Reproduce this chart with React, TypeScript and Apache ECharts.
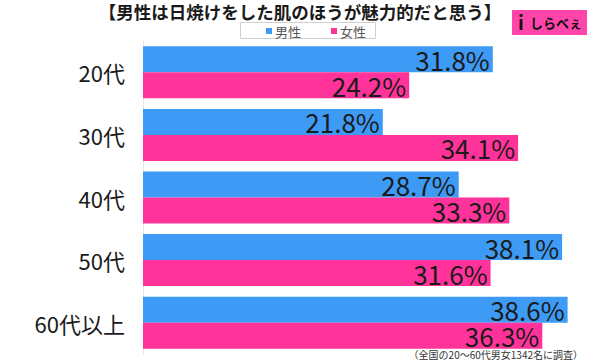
import React, { useEffect, useRef } from "react";
import * as echarts from "echarts";

const categories = ["20代", "30代", "40代", "50代", "60代以上"];
const maleValues = [31.8, 21.8, 28.7, 38.1, 38.6];
const femaleValues = [24.2, 34.1, 33.3, 31.6, 36.3];
const seriesNames = ["男性", "女性"];
const titleText = "【男性は日焼けをした肌のほうが魅力的だと思う】";
const footnote = "（全国の20〜60代男女1342名に調査）";

const FONT = "'Noto Sans CJK JP', 'Noto Sans', sans-serif";

export default function App() {
  const ref = useRef<HTMLDivElement>(null);
  useEffect(() => {
    if (!ref.current) return;
    const chart = echarts.init(ref.current, undefined, { renderer: "svg" });
    const label = {
      show: true,
      position: "insideRight",
      distance: 3,
      formatter: (p: any) => p.value.toFixed(1) + "%",
      color: "#1a1a1a",
      fontSize: 26,
      fontFamily: FONT,
    };
    chart.setOption({
      animation: false,
      textStyle: { fontFamily: FONT },
      title: {
        text: titleText,
        left: "center",
        top: 1,
        padding: [0, 5, 0, 5],
        textStyle: { fontSize: 17.5, fontWeight: "bold", color: "#1a1a1a", fontFamily: FONT, lineHeight: 20 },
      },
      legend: {
        data: seriesNames,
        left: 266,
        top: 24,
        icon: "rect",
        itemWidth: 6,
        itemHeight: 6,
        itemGap: 30,
        padding: 0,
        textStyle: { fontSize: 13, color: "#555", fontFamily: FONT, padding: [0, 0, 0, -2], lineHeight: 14 },
      },
      grid: { left: 143, top: 41, width: 440, height: 313, containLabel: false },
      xAxis: {
        type: "value",
        min: 0,
        max: 40,
        show: false,
      },
      yAxis: {
        type: "category",
        data: categories,
        inverse: true,
        axisLine: { show: true, lineStyle: { color: "#e6e6e6", width: 1 } },
        axisTick: { show: false },
        axisLabel: { fontSize: 22, color: "#1a1a1a", margin: 18, fontFamily: FONT },
      },
      series: [
        {
          name: seriesNames[0],
          type: "bar",
          data: maleValues,
          barWidth: 26,
          barGap: "0%",
          itemStyle: { color: "#3d9bf5" },
          label,
        },
        {
          name: seriesNames[1],
          type: "bar",
          data: femaleValues,
          barWidth: 26,
          barGap: "0%",
          itemStyle: { color: "#ff3399" },
          label,
        },
      ],
      graphic: [
        {
          type: "rect",
          left: 240,
          top: 22,
          z: -1,
          shape: { width: 135, height: 16 },
          style: { fill: "#ffffff", stroke: "#d0d0d0", lineWidth: 1 },
        },
        {
          type: "rect",
          left: 512,
          top: 10,
          shape: { width: 75, height: 25 },
          style: { fill: "#ff44aa" },
        },
        {
          type: "text",
          left: 518,
          top: 12,
          style: { text: "i", fontSize: 19, fontWeight: "bold", fill: "#111", fontFamily: FONT },
        },
        {
          type: "text",
          left: 530,
          top: 16,
          style: { text: "しらべぇ", fontSize: 13, fontWeight: "bold", fill: "#111", fontFamily: FONT },
        },
        {
          type: "text",
          right: 17,
          top: 349,
          style: { text: footnote, fontSize: 10, fill: "#333", fontFamily: FONT },
        },
      ],
    });
    return () => chart.dispose();
  }, []);
  return <div ref={ref} style={{ width: 600, height: 360, position: "absolute", left: 0, top: 0 }} />;
}
